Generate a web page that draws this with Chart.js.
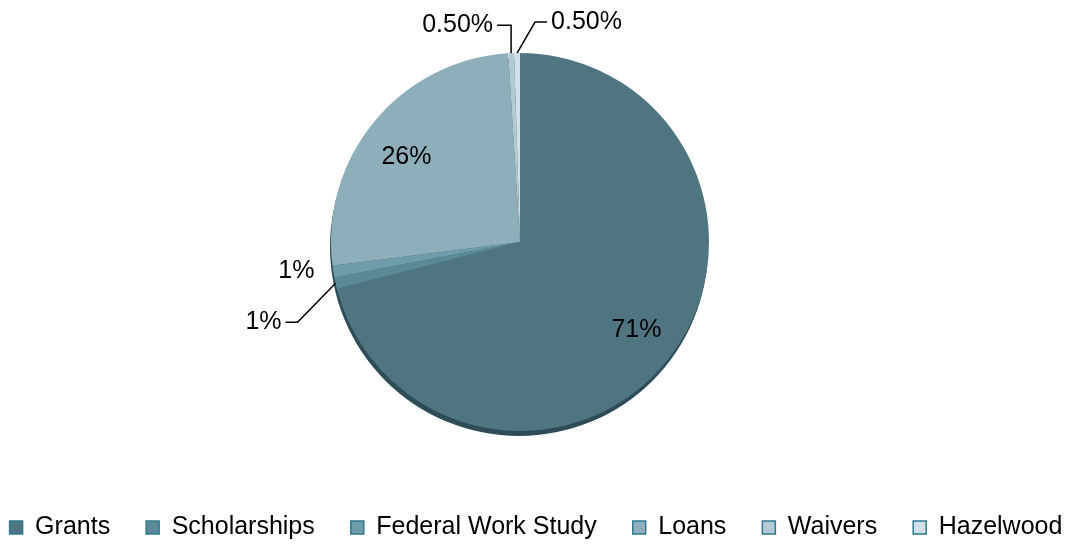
<!DOCTYPE html>
<html>
<head>
<meta charset="utf-8">
<title>Financial aid pie</title>
<script src="https://cdn.jsdelivr.net/npm/chart.js@4.4.1/dist/chart.umd.min.js"></script>
<style>
  html, body { margin: 0; padding: 0; background: #fff; }
  .canvas-container { width: 1072px; height: 546px; }
</style>
</head>
<body>
<div class="canvas-container">
  <canvas id="pieChart" width="1072" height="546"></canvas>
</div>
<script>
const categories = ['Grants', 'Scholarships', 'Federal Work Study', 'Loans', 'Waivers', 'Hazelwood'];
const shares = [71, 1, 1, 26, 0.5, 0.5];
const sliceColors = ['#4f7581', '#5b8997', '#6e9cab', '#8eaeb9', '#b2cad2', '#d2e0e5'];

// how each percentage label sits relative to its slice (style only)
// inside: fraction of radius; outside: elbow and tail offsets from the rim
const labelPlacement = [
  { inside: 0.78, dy: -2 },
  { elbow: [-38, 39], tail: -12 },
  { dx: -37, dy: 0 },
  { inside: 0.78, dy: 9 },
  { elbow: [0, -28], tail: -14 },
  { elbow: [18, -31], tail: 12 }
];

const fmt = (v) => (Number.isInteger(v) ? v : v.toFixed(2)) + '%';
const FONT = '25px "Liberation Sans", Arial, sans-serif';

// park the pie where the original sits, leave the legend where the layout put it
const placePie = {
  id: 'placePie',
  afterLayout(chart) {
    const a = chart.chartArea;
    a.left = 331; a.right = 709;
    a.top = 53; a.bottom = 431;
    a.width = a.right - a.left;
    a.height = a.bottom - a.top;
  }
};

// dark rim under the pie for the tilted look
const pieShadow = {
  id: 'pieShadow',
  beforeDatasetsDraw(chart) {
    const arc = chart.getDatasetMeta(0).data[0];
    if (!arc) return;
    const { x, y, outerRadius } = arc.getProps(['x', 'y', 'outerRadius'], true);
    const ctx = chart.ctx;
    ctx.save();
    ctx.fillStyle = '#2d4c56';
    ctx.beginPath();
    ctx.arc(x - 1, y + 5, outerRadius, 0, Math.PI * 2);
    ctx.fill();
    ctx.restore();
  }
};

const pctLabels = {
  id: 'pctLabels',
  afterDatasetsDraw(chart) {
    const ctx = chart.ctx;
    const values = chart.data.datasets[0].data;
    ctx.save();
    ctx.font = FONT;
    ctx.fillStyle = '#000';
    ctx.strokeStyle = '#000';
    ctx.lineWidth = 1.5;
    ctx.textBaseline = 'middle';
    chart.getDatasetMeta(0).data.forEach((arc, i) => {
      const p = arc.getProps(['x', 'y', 'startAngle', 'endAngle', 'outerRadius'], true);
      const mid = (p.startAngle + p.endAngle) / 2;
      const cos = Math.cos(mid), sin = Math.sin(mid);
      const txt = fmt(values[i]);
      const place = labelPlacement[i];
      if (place.inside) {
        const r = p.outerRadius * place.inside;
        ctx.textAlign = 'center';
        ctx.fillText(txt, p.x + cos * r, p.y + sin * r + (place.dy || 0));
        return;
      }
      const ax = p.x + cos * p.outerRadius;
      const ay = p.y + sin * p.outerRadius;
      if (place.elbow) {
        const ex = ax + place.elbow[0], ey = ay + place.elbow[1];
        const tx = ex + place.tail;
        ctx.beginPath();
        ctx.moveTo(ax, ay);
        ctx.lineTo(ex, ey);
        ctx.lineTo(tx, ey);
        ctx.stroke();
        ctx.textAlign = place.tail < 0 ? 'right' : 'left';
        ctx.fillText(txt, tx + (place.tail < 0 ? -4 : 4), ey);
      } else {
        ctx.textAlign = 'center';
        ctx.fillText(txt, ax + place.dx, ay + place.dy);
      }
    });
    ctx.restore();
  }
};

const ctx = document.getElementById('pieChart').getContext('2d');

new Chart(ctx, {
  type: 'pie',
  data: {
    labels: categories,
    datasets: [{
      data: shares,
      backgroundColor: sliceColors,
      borderWidth: 0
    }]
  },
  options: {
    responsive: false,
    animation: false,
    layout: { padding: { top: 53, left: -40, right: -40, bottom: -4 } },
    rotation: 0,
    plugins: {
      tooltip: { enabled: false },
      legend: {
        position: 'bottom',
        labels: {
          font: { size: 25, family: '"Liberation Sans", Arial, sans-serif' },
          color: '#000',
          boxWidth: 13,
          boxHeight: 13,
          padding: 36,
          generateLabels(chart) {
            return chart.data.labels.map((label, i) => ({
              text: label,
              fillStyle: sliceColors[i],
              strokeStyle: '#2f7a92',
              lineWidth: 1.5,
              fontColor: '#000',
              hidden: false,
              index: i
            }));
          }
        }
      }
    }
  },
  plugins: [placePie, pieShadow, pctLabels]
});
</script>
</body>
</html>
